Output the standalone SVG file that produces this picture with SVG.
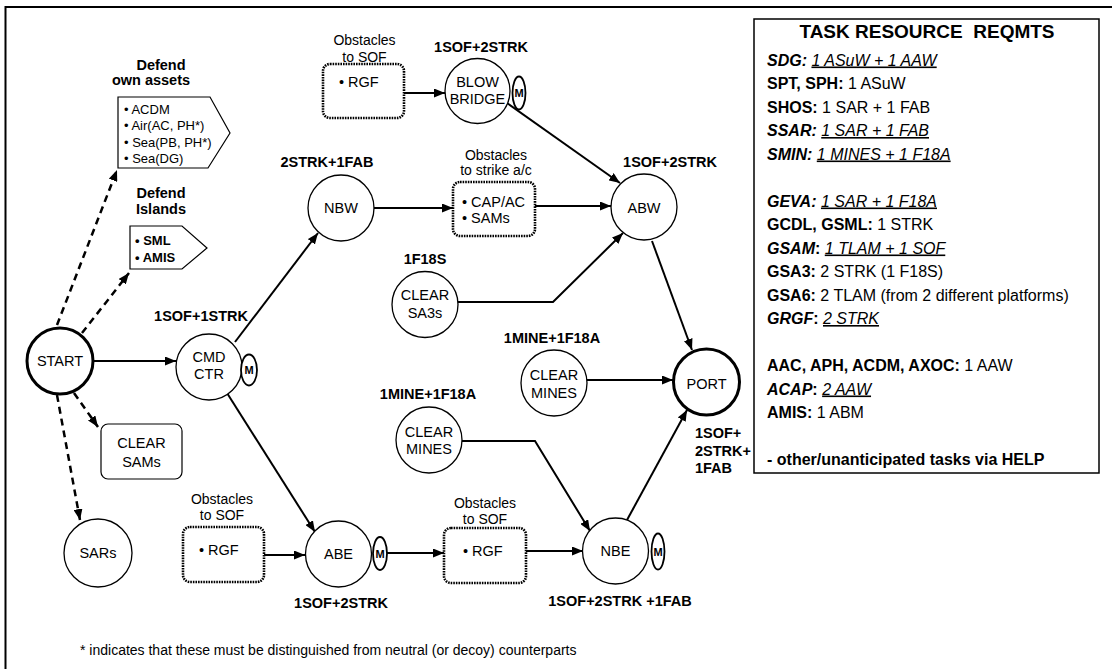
<svg xmlns="http://www.w3.org/2000/svg" width="1112" height="669" viewBox="0 0 1112 669">
<style>
text{font-family:"Liberation Sans",Arial,sans-serif;fill:#000}
.n{font-size:14.5px}
.b{font-size:14.5px;font-weight:bold}
.o{font-size:14px}
.s{font-size:13px}
.m{font-size:11px;font-weight:bold}
.p{font-size:16px}
.bb{font-weight:bold}
.bi{font-weight:bold;font-style:italic}
.iu{font-style:italic;text-decoration:underline}
.c{fill:#fff;stroke:#000;stroke-width:1.3}
.ct{fill:#fff;stroke:#000;stroke-width:3}
.me{fill:#fff;stroke:#000;stroke-width:1.8}
.dot{fill:#fff;stroke:#000;stroke-width:2.6;stroke-dasharray:1.6 1}
.sh{fill:#fff;stroke:#000;stroke-width:1.2}
.l{fill:none;stroke:#000;stroke-width:2}
.d{fill:none;stroke:#000;stroke-width:2.5;stroke-dasharray:7 5}
</style>
<defs>
<marker id="ah" viewBox="0 0 11 9" refX="11" refY="4.5" markerWidth="11" markerHeight="9" orient="auto" markerUnits="userSpaceOnUse">
<path d="M0,0 L11,4.5 L0,9 z" fill="#000"/>
</marker>
</defs>
<rect width="1112" height="669" fill="#fff"/>
<path d="M5.5,669 V7 H1112" fill="none" stroke="#000" stroke-width="2"/>

<g id="connectors">
<line class="d" x1="57" y1="325" x2="117" y2="170" marker-end="url(#ah)"/>
<line class="d" x1="82" y1="333" x2="129" y2="273" marker-end="url(#ah)"/>
<line class="d" x1="74" y1="393" x2="98" y2="427" marker-end="url(#ah)"/>
<line class="d" x1="57" y1="395" x2="80" y2="520" marker-end="url(#ah)"/>
<line class="l" x1="94" y1="361" x2="176" y2="361" marker-end="url(#ah)"/>
<line class="l" x1="235" y1="342" x2="318" y2="233" marker-end="url(#ah)"/>
<line class="l" x1="227" y1="393" x2="315" y2="532" marker-end="url(#ah)"/>
<line class="l" x1="404" y1="93" x2="445" y2="93" marker-end="url(#ah)"/>
<line class="l" x1="507" y1="103" x2="620" y2="183" marker-end="url(#ah)"/>
<line class="l" x1="373" y1="208" x2="453" y2="208" marker-end="url(#ah)"/>
<line class="l" x1="535" y1="206" x2="611" y2="206" marker-end="url(#ah)"/>
<polyline class="l" points="458,302 553,302 623,233" marker-end="url(#ah)"/>
<line class="l" x1="652" y1="241" x2="692" y2="350" marker-end="url(#ah)"/>
<line class="l" x1="587" y1="380" x2="673" y2="380" marker-end="url(#ah)"/>
<polyline class="l" points="462,441 535,441 590,531" marker-end="url(#ah)"/>
<line class="l" x1="627" y1="520" x2="687" y2="410" marker-end="url(#ah)"/>
<line class="l" x1="264" y1="555" x2="305" y2="555" marker-end="url(#ah)"/>
<line class="l" x1="387" y1="553" x2="444" y2="553" marker-end="url(#ah)"/>
<line class="l" x1="526" y1="551" x2="583" y2="551" marker-end="url(#ah)"/>
</g>

<g id="defend-own">
<text class="b" x="161" y="70" text-anchor="middle">Defend</text>
<text class="b" x="151" y="85" text-anchor="middle">own assets</text>
<polygon class="sh" points="118,97 210,97 230,133 208,168 118,168"/>
<text class="s" x="124" y="113.5">• ACDM</text>
<text class="s" x="124" y="130">• Air(AC, PH*)</text>
<text class="s" x="124" y="146.5">• Sea(PB, PH*)</text>
<text class="s" x="124" y="163">• Sea(DG)</text>
</g>

<g id="defend-islands">
<text class="b" x="161" y="198" text-anchor="middle">Defend</text>
<text class="b" x="161" y="214" text-anchor="middle">Islands</text>
<polygon class="sh" points="130,226 182,226 207,248 182,269 130,269"/>
<text class="s bb" x="135" y="244.5">• SML</text>
<text class="s bb" x="135" y="261.5">• AMIS</text>
</g>

<g id="start">
<circle class="ct" cx="60" cy="361" r="33"/>
<text class="n" x="60" y="366" text-anchor="middle">START</text>
</g>

<g id="clear-sams">
<rect class="sh" x="101" y="424" width="81" height="55" rx="7"/>
<text class="n" x="141.5" y="448" text-anchor="middle">CLEAR</text>
<text class="n" x="141.5" y="467" text-anchor="middle">SAMs</text>
</g>

<g id="sars">
<circle class="c" cx="98" cy="553" r="34"/>
<text class="n" x="98" y="558" text-anchor="middle">SARs</text>
</g>

<g id="cmd-ctr">
<text class="b" x="201" y="321" text-anchor="middle">1SOF+1STRK</text>
<circle class="c" cx="209" cy="367" r="33"/>
<text class="n" x="209" y="362" text-anchor="middle">CMD</text>
<text class="n" x="209" y="379" text-anchor="middle">CTR</text>
<ellipse class="me" cx="249" cy="370" rx="8" ry="15.5"/>
<text class="m" x="249" y="374" text-anchor="middle">M</text>
</g>

<g id="obst-sof-top">
<text class="o" x="364.5" y="45" text-anchor="middle">Obstacles</text>
<text class="o" x="364.5" y="62" text-anchor="middle">to SOF</text>
<rect class="dot" x="323" y="64" width="81" height="54" rx="7"/>
<text class="n" x="339" y="87">• RGF</text>
</g>

<g id="blow-bridge">
<text class="b" x="481" y="52" text-anchor="middle">1SOF+2STRK</text>
<circle class="c" cx="477.5" cy="91" r="32.5"/>
<text class="n" x="477.5" y="87" text-anchor="middle">BLOW</text>
<text class="n" x="477.5" y="104" text-anchor="middle">BRIDGE</text>
<ellipse class="me" cx="519" cy="93" rx="6.5" ry="16.5"/>
<text class="m" x="519" y="97" text-anchor="middle">M</text>
</g>

<g id="nbw">
<text class="b" x="327" y="167" text-anchor="middle">2STRK+1FAB</text>
<circle class="c" cx="341" cy="208" r="33"/>
<text class="n" x="341" y="213" text-anchor="middle">NBW</text>
</g>

<g id="obst-strike">
<text class="o" x="496" y="160" text-anchor="middle">Obstacles</text>
<text class="o" x="496" y="175" text-anchor="middle">to strike a/c</text>
<rect class="dot" x="453" y="182" width="82" height="54" rx="7"/>
<text class="n" x="462" y="207">• CAP/AC</text>
<text class="n" x="462" y="223">• SAMs</text>
</g>

<g id="abw">
<text class="b" x="670" y="167" text-anchor="middle">1SOF+2STRK</text>
<circle class="c" cx="644" cy="207" r="33"/>
<text class="n" x="644" y="213" text-anchor="middle">ABW</text>
</g>

<g id="clear-sa3s">
<text class="b" x="425" y="264" text-anchor="middle">1F18S</text>
<circle class="c" cx="425" cy="304.5" r="33"/>
<text class="n" x="425" y="300" text-anchor="middle">CLEAR</text>
<text class="n" x="425" y="318" text-anchor="middle">SA3s</text>
</g>

<g id="clear-mines-1">
<text class="b" x="552" y="343" text-anchor="middle">1MINE+1F18A</text>
<circle class="c" cx="554" cy="383" r="33"/>
<text class="n" x="554" y="380" text-anchor="middle">CLEAR</text>
<text class="n" x="554" y="398" text-anchor="middle">MINES</text>
</g>

<g id="port">
<circle class="ct" cx="706.5" cy="382" r="33"/>
<text class="n" x="706.5" y="389" text-anchor="middle">PORT</text>
<text class="b" x="695" y="438">1SOF+</text>
<text class="b" x="695" y="456">2STRK+</text>
<text class="b" x="695" y="473">1FAB</text>
</g>

<g id="clear-mines-2">
<text class="b" x="428" y="399" text-anchor="middle">1MINE+1F18A</text>
<circle class="c" cx="429" cy="440" r="33"/>
<text class="n" x="429" y="437" text-anchor="middle">CLEAR</text>
<text class="n" x="429" y="454" text-anchor="middle">MINES</text>
</g>

<g id="obst-sof-left">
<text class="o" x="222" y="504" text-anchor="middle">Obstacles</text>
<text class="o" x="222" y="520" text-anchor="middle">to SOF</text>
<rect class="dot" x="183" y="527" width="81" height="55" rx="7"/>
<text class="n" x="199" y="555">• RGF</text>
</g>

<g id="abe">
<circle class="c" cx="338.5" cy="554" r="33"/>
<text class="n" x="338.5" y="559" text-anchor="middle">ABE</text>
<ellipse class="me" cx="380" cy="553.5" rx="7" ry="16.5"/>
<text class="m" x="380" y="557.5" text-anchor="middle">M</text>
<text class="b" x="341" y="608" text-anchor="middle">1SOF+2STRK</text>
</g>

<g id="obst-sof-mid">
<text class="o" x="485" y="508" text-anchor="middle">Obstacles</text>
<text class="o" x="485" y="524" text-anchor="middle">to SOF</text>
<rect class="dot" x="444" y="528" width="82" height="55" rx="7"/>
<text class="n" x="463" y="556">• RGF</text>
</g>

<g id="nbe">
<circle class="c" cx="615.5" cy="551" r="33"/>
<text class="n" x="615.5" y="556" text-anchor="middle">NBE</text>
<ellipse class="me" cx="658" cy="551.5" rx="6.5" ry="18"/>
<text class="m" x="658" y="555.5" text-anchor="middle">M</text>
<text class="b" x="620" y="606" text-anchor="middle">1SOF+2STRK +1FAB</text>
</g>

<g id="footnote">
<text class="o" x="80" y="655">* indicates that these must be distinguished from neutral (or decoy) counterparts</text>
</g>

<g id="requirements">
<rect x="754" y="19" width="345" height="454" fill="#fff" stroke="#000" stroke-width="1.5"/>
<text x="927" y="38" text-anchor="middle" font-size="19" font-weight="bold" xml:space="preserve">TASK RESOURCE  REQMTS</text>
<text class="p" x="767" y="65.5"><tspan class="bi">SDG:</tspan> <tspan class="iu">1 ASuW + 1 AAW</tspan></text>
<text class="p" x="767" y="89"><tspan class="bb">SPT, SPH:</tspan> 1 ASuW</text>
<text class="p" x="767" y="112.5"><tspan class="bb">SHOS:</tspan> 1 SAR + 1 FAB</text>
<text class="p" x="767" y="136"><tspan class="bi">SSAR:</tspan> <tspan class="iu">1 SAR + 1 FAB</tspan></text>
<text class="p" x="767" y="159.5"><tspan class="bi">SMIN:</tspan> <tspan class="iu">1 MINES + 1 F18A</tspan></text>
<text class="p" x="767" y="206.5"><tspan class="bi">GEVA:</tspan> <tspan class="iu">1 SAR + 1 F18A</tspan></text>
<text class="p" x="767" y="230"><tspan class="bb">GCDL, GSML</tspan><tspan class="bb">:</tspan> 1 STRK</text>
<text class="p" x="767" y="253.5"><tspan class="bi">GSAM</tspan><tspan class="bb">:</tspan> <tspan class="iu">1 TLAM + 1 SOF</tspan></text>
<text class="p" x="767" y="277"><tspan class="bb">GSA3:</tspan> 2 STRK (1 F18S)</text>
<text class="p" x="767" y="300.5"><tspan class="bb">GSA6:</tspan> 2 TLAM (from 2 different platforms)</text>
<text class="p" x="767" y="324"><tspan class="bi">GRGF</tspan><tspan class="bb">:</tspan> <tspan class="iu">2 STRK</tspan></text>
<text class="p" x="767" y="371"><tspan class="bb">AAC, APH, ACDM, AXOC:</tspan> 1 AAW</text>
<text class="p" x="767" y="394.5"><tspan class="bi">ACAP</tspan><tspan class="bb">:</tspan> <tspan class="iu">2 AAW</tspan></text>
<text class="p" x="767" y="418"><tspan class="bb">AMIS:</tspan> 1 ABM</text>
<text class="p bb" x="767" y="465">- other/unanticipated tasks via HELP</text>
</g>
</svg>
